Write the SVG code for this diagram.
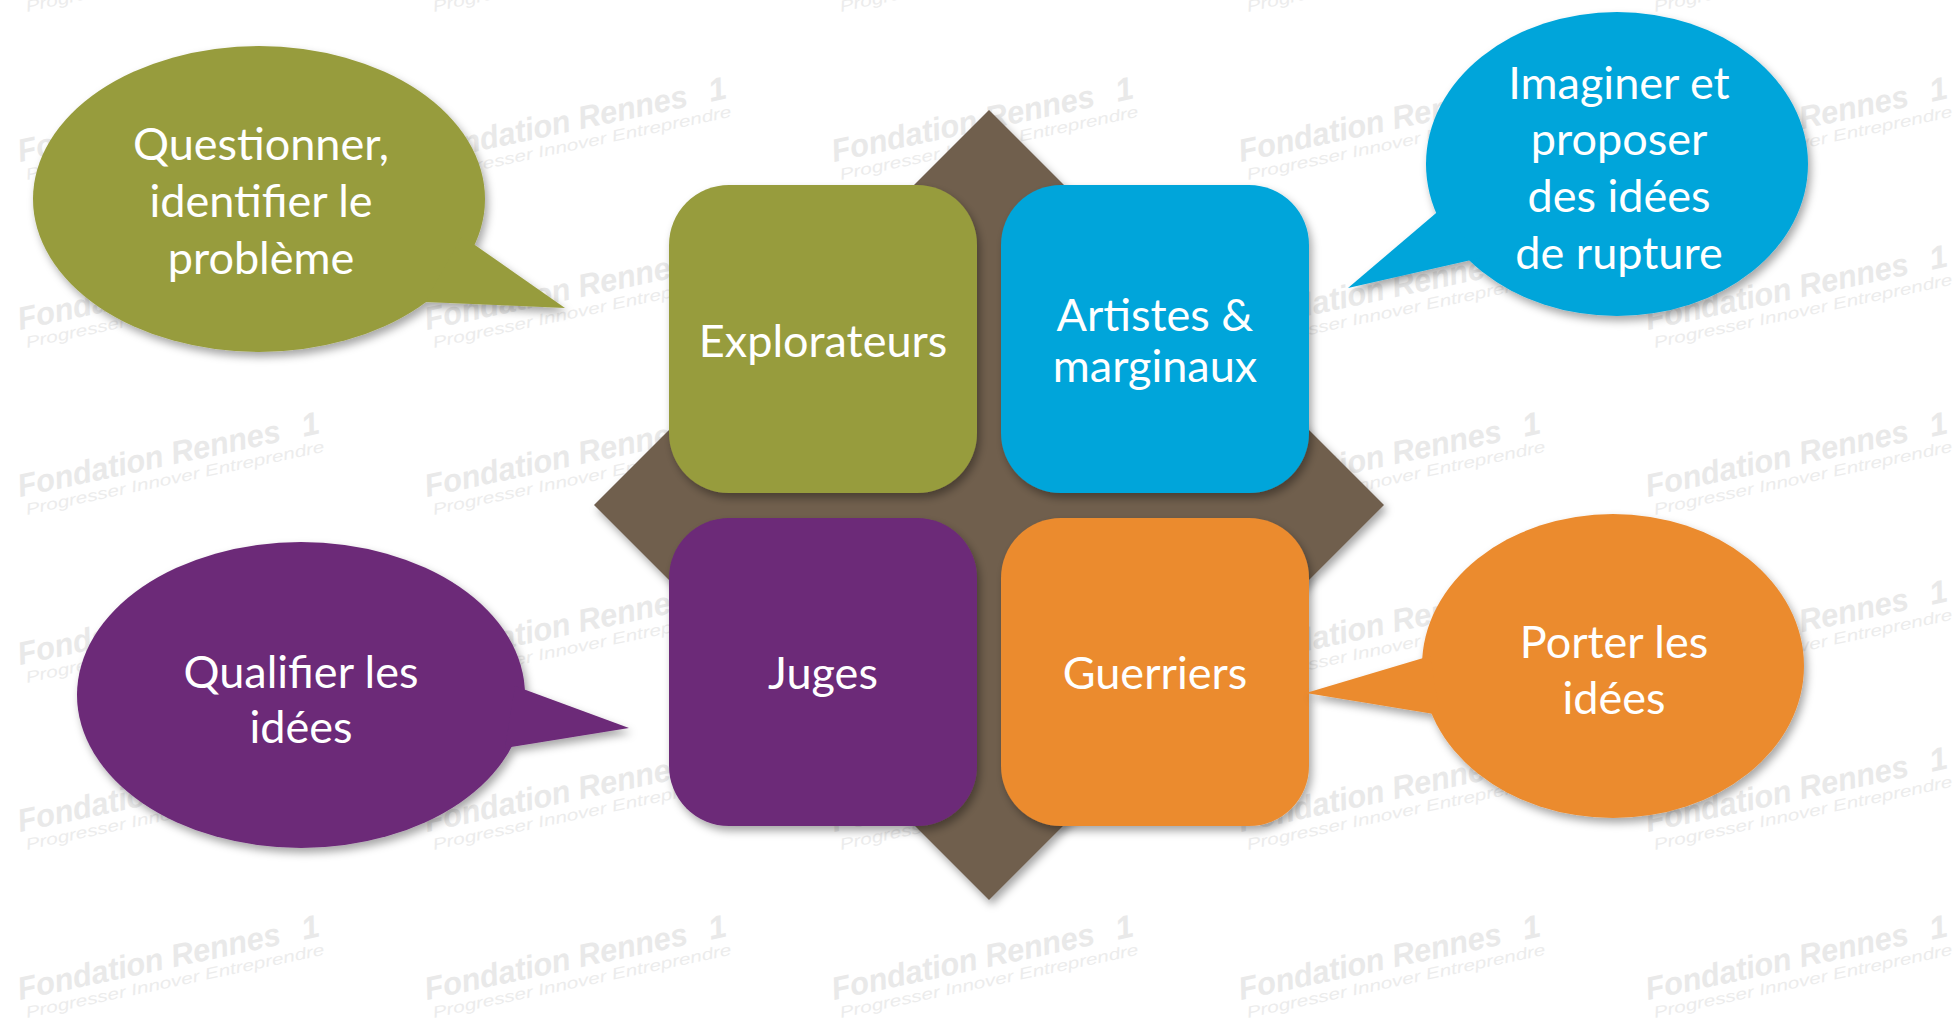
<svg xmlns="http://www.w3.org/2000/svg" xmlns:xlink="http://www.w3.org/1999/xlink" width="1960" height="1021" viewBox="0 0 1960 1021">
  <style>
    .wm1 { font-family: "Liberation Sans", Arial, sans-serif; font-weight: bold; font-style: italic; fill: #e9e9e9; }
    .wm2 { font-family: "Liberation Sans", Arial, sans-serif; font-style: italic; fill: #ececec; }
    .lbl { font-family: Lato, "Open Sans", sans-serif; font-size: 45px; fill: #ffffff; text-anchor: middle; }
    .olive { fill: #979C3D; }
    .blue { fill: #02A5DA; }
    .purple { fill: #6C2A78; }
    .orange { fill: #EB8B2F; }
    .brown { fill: #6F5F4E; }
  </style>
  <defs>
    <filter id="sh" x="-20%" y="-20%" width="140%" height="140%">
      <feDropShadow dx="3" dy="5" stdDeviation="4" flood-color="#000" flood-opacity="0.35"/>
    </filter>
    <g id="wm" transform="rotate(-12)">
      <text class="wm1" x="0" y="0" font-size="32" textLength="268" lengthAdjust="spacingAndGlyphs">Fondation Rennes</text>
      <text class="wm1" x="290" y="0" font-size="32">1</text>
      <text class="wm2" x="3" y="19" font-size="16" textLength="305" lengthAdjust="spacingAndGlyphs">Progresser Innover Entreprendre</text>
    </g>
  </defs>
  <rect width="1960" height="1021" fill="#ffffff"/>
  <g id="watermark">
    <use xlink:href="#wm" x="20" y="-6"/><use xlink:href="#wm" x="427" y="-6"/><use xlink:href="#wm" x="834" y="-6"/><use xlink:href="#wm" x="1241" y="-6"/><use xlink:href="#wm" x="1648" y="-6"/>
    <use xlink:href="#wm" x="20" y="162"/><use xlink:href="#wm" x="427" y="162"/><use xlink:href="#wm" x="834" y="162"/><use xlink:href="#wm" x="1241" y="162"/><use xlink:href="#wm" x="1648" y="162"/>
    <use xlink:href="#wm" x="20" y="330"/><use xlink:href="#wm" x="427" y="330"/><use xlink:href="#wm" x="834" y="330"/><use xlink:href="#wm" x="1241" y="330"/><use xlink:href="#wm" x="1648" y="330"/>
    <use xlink:href="#wm" x="20" y="497"/><use xlink:href="#wm" x="427" y="497"/><use xlink:href="#wm" x="834" y="497"/><use xlink:href="#wm" x="1241" y="497"/><use xlink:href="#wm" x="1648" y="497"/>
    <use xlink:href="#wm" x="20" y="665"/><use xlink:href="#wm" x="427" y="665"/><use xlink:href="#wm" x="834" y="665"/><use xlink:href="#wm" x="1241" y="665"/><use xlink:href="#wm" x="1648" y="665"/>
    <use xlink:href="#wm" x="20" y="832"/><use xlink:href="#wm" x="427" y="832"/><use xlink:href="#wm" x="834" y="832"/><use xlink:href="#wm" x="1241" y="832"/><use xlink:href="#wm" x="1648" y="832"/>
    <use xlink:href="#wm" x="20" y="1000"/><use xlink:href="#wm" x="427" y="1000"/><use xlink:href="#wm" x="834" y="1000"/><use xlink:href="#wm" x="1241" y="1000"/><use xlink:href="#wm" x="1648" y="1000"/>
  </g>

  <g id="diamond" filter="url(#sh)">
    <polygon class="brown" points="989,110 1384,505 989,900 594,505"/>
  </g>

  <g id="explorateurs">
    <rect class="olive" x="669" y="185" width="308" height="308" rx="60" filter="url(#sh)"/>
    <text class="lbl" x="823" y="357">Explorateurs</text>
  </g>
  <g id="artistes">
    <rect class="blue" x="1001" y="185" width="308" height="308" rx="60" filter="url(#sh)"/>
    <text class="lbl" x="1155" y="331">Artistes &amp;</text>
    <text class="lbl" x="1155" y="382">marginaux</text>
  </g>
  <g id="juges">
    <rect class="purple" x="669" y="518" width="308" height="308" rx="60" filter="url(#sh)"/>
    <text class="lbl" x="823" y="689">Juges</text>
  </g>
  <g id="guerriers">
    <rect class="orange" x="1001" y="518" width="308" height="308" rx="60" filter="url(#sh)"/>
    <text class="lbl" x="1155" y="689">Guerriers</text>
  </g>

  <g id="bubble-questionner">
    <g filter="url(#sh)">
      <ellipse class="olive" cx="259" cy="199" rx="226" ry="153"/>
      <polygon class="olive" points="462,236 565,308 425,302"/>
    </g>
    <text class="lbl" x="261" y="160">Questionner,</text>
    <text class="lbl" x="261" y="217">identifier le</text>
    <text class="lbl" x="261" y="274">problème</text>
  </g>
  <g id="bubble-imaginer">
    <g filter="url(#sh)">
      <ellipse class="blue" cx="1617" cy="164" rx="191" ry="152"/>
      <polygon class="blue" points="1442,208 1348,288 1480,258"/>
    </g>
    <text class="lbl" x="1619" y="99">Imaginer et</text>
    <text class="lbl" x="1619" y="155">proposer</text>
    <text class="lbl" x="1619" y="212">des idées</text>
    <text class="lbl" x="1619" y="269">de rupture</text>
  </g>
  <g id="bubble-qualifier">
    <g filter="url(#sh)">
      <ellipse class="purple" cx="301" cy="695" rx="224" ry="153"/>
      <polygon class="purple" points="515,686 629,728 505,748"/>
    </g>
    <text class="lbl" x="301" y="688">Qualifier les</text>
    <text class="lbl" x="301" y="743">idées</text>
  </g>
  <g id="bubble-porter">
    <g filter="url(#sh)">
      <ellipse class="orange" cx="1613" cy="666" rx="191" ry="152"/>
      <polygon class="orange" points="1430,656 1306,693 1440,715"/>
    </g>
    <text class="lbl" x="1614" y="658">Porter les</text>
    <text class="lbl" x="1614" y="714">idées</text>
  </g>

  <g id="connectors"/>
</svg>
